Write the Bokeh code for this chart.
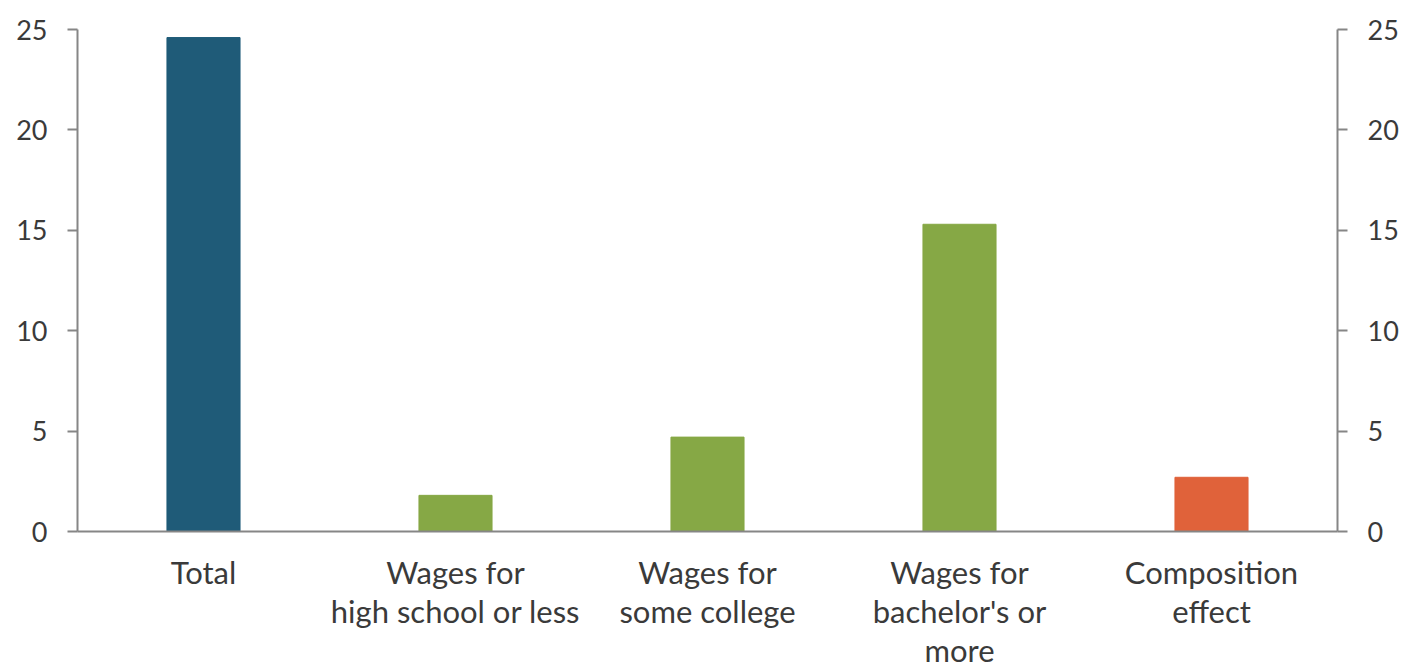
from bokeh.plotting import figure
from bokeh.models import LinearAxis, Range1d, FixedTicker, ColumnDataSource
from bokeh.embed import file_html
from bokeh.resources import INLINE

# ---- data ----
categories = ["Total", "Wages for\nhigh school or less", "Wages for\nsome college",
              "Wages for\nbachelor's or\nmore", "Composition\neffect"]
values = [24.6, 1.8, 4.7, 15.3, 2.7]
bar_colors = ["#1f5b78", "#86a845", "#86a845", "#86a845", "#e0623a"]
y_ticks = [0, 5, 10, 15, 20, 25]

FONT = "Lato"
TEXT = "#3a3a3a"
AXIS = "#868686"

source = ColumnDataSource(dict(cat=categories, val=values, color=bar_colors))

p = figure(x_range=categories, y_range=Range1d(0, 25), frame_width=1260, frame_height=502,
           output_backend="svg", toolbar_location=None,
           min_border_left=77, min_border_right=66, min_border_top=29, min_border_bottom=120)

p.vbar(x="cat", top="val", width=0.29, color="color", source=source)

p.xgrid.visible = False
p.ygrid.visible = False
p.outline_line_color = None
p.background_fill_color = "white"
p.border_fill_color = "white"

# x axis
xa = p.xaxis[0]
xa.major_tick_line_color = None
xa.minor_tick_line_color = None
xa.axis_line_color = AXIS
xa.axis_line_width = 2
xa.major_label_text_font = FONT
xa.major_label_text_font_size = "31px"
xa.major_label_text_color = TEXT
xa.major_label_standoff = 15
xa.major_label_text_line_height = 1.03

def style_y(ax):
    ax.ticker = FixedTicker(ticks=y_ticks)
    ax.axis_line_color = AXIS
    ax.axis_line_width = 2
    ax.major_tick_line_color = AXIS
    ax.major_tick_line_width = 2
    ax.major_tick_out = 10
    ax.major_tick_in = 0
    ax.minor_tick_line_color = None
    ax.major_label_text_font = FONT
    ax.major_label_text_font_size = "27px"
    ax.major_label_text_color = TEXT

style_y(p.yaxis[0])
p.yaxis[0].major_label_standoff = 20

right = LinearAxis()
style_y(right)
right.major_label_standoff = 20
p.add_layout(right, "right")

open("out.html", "w").write(file_html(p, INLINE))
